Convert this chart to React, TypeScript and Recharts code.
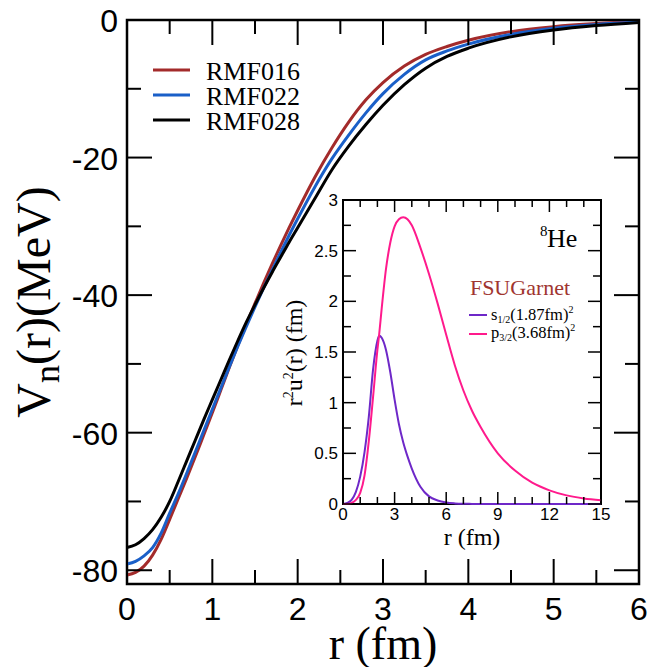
import { LineChart, Line, XAxis, YAxis, Legend, ReferenceArea } from 'recharts';

// Main panel: neutron potential V_n(r) for three RMF sets
const rGrid = [0, 0.1, 0.2, 0.3, 0.4, 0.5, 0.6, 0.7, 0.8, 0.9, 1.0, 1.1, 1.2, 1.3, 1.4, 1.5, 1.6, 1.7, 1.8, 1.9, 2.0, 2.2, 2.4, 2.6, 2.8, 3.0, 3.25, 3.5, 3.75, 4.0, 4.5, 5.0, 5.5, 6.0];
const rmf016 = [-80.7, -80.3, -79.4, -77.8, -75.5, -72.6, -69.6, -66.6, -63.5, -60.3, -57.1, -53.8, -50.5, -47.3, -44.2, -41.2, -38.3, -35.5, -32.8, -30.2, -27.7, -22.9, -18.6, -14.8, -11.6, -9.1, -6.7, -5.0, -3.85, -2.95, -1.7, -0.97, -0.52, -0.22];
const rmf022 = [-79.1, -78.7, -77.9, -76.7, -74.6, -71.7, -68.9, -65.9, -62.8, -59.7, -56.6, -53.5, -50.4, -47.4, -44.5, -41.7, -39.0, -36.4, -33.8, -31.3, -28.9, -24.3, -20.2, -16.7, -13.5, -10.7, -7.9, -5.8, -4.5, -3.5, -2.1, -1.2, -0.65, -0.3];
const rmf028 = [-76.7, -76.3, -75.4, -74.1, -72.3, -70.0, -67.1, -64.1, -61.1, -58.1, -55.2, -52.3, -49.4, -46.6, -43.9, -41.4, -39.0, -36.7, -34.5, -32.3, -30.2, -26.0, -21.8, -18.3, -15.2, -12.4, -9.4, -7.0, -5.3, -4.1, -2.45, -1.45, -0.8, -0.35];
const mainXTicks = [0, 0.5, 1, 1.5, 2, 2.5, 3, 3.5, 4, 4.5, 5, 5.5, 6];
const mainYTicks = [-80, -70, -60, -50, -40, -30, -20, -10, 0];

// Inset: r^2 u^2(r) densities for 8He (FSUGarnet)
const rInset = [0, 0.25, 0.5, 0.75, 1, 1.25, 1.5, 1.75, 2, 2.1, 2.25, 2.5, 2.75, 3, 3.25, 3.5, 3.75, 4, 4.5, 5, 5.5, 6, 6.5, 7, 7.5, 8, 9, 10, 11, 12, 13, 14, 15];
const s12 = [0, 0.01, 0.04, 0.12, 0.27, 0.51, 0.86, 1.33, 1.61, 1.66, 1.64, 1.52, 1.30, 1.03, 0.79, 0.61, 0.47, 0.35, 0.17, 0.075, 0.035, 0.015, 0.006, 0.002, 0.001, 0, 0, 0, 0, 0, 0, 0, 0];
const p32 = [0, 0, 0.01, 0.04, 0.11, 0.28, 0.62, 1.06, 1.52, 1.67, 1.93, 2.32, 2.58, 2.74, 2.81, 2.83, 2.81, 2.75, 2.53, 2.27, 1.98, 1.67, 1.37, 1.12, 0.92, 0.76, 0.50, 0.33, 0.21, 0.135, 0.085, 0.055, 0.038];
const insetXTicks = [0, 1, 2, 3, 4, 5, 6, 7, 8, 9, 10, 11, 12, 13, 14, 15];
const insetYTicks = [0, 0.25, 0.5, 0.75, 1, 1.25, 1.5, 1.75, 2, 2.25, 2.5, 2.75, 3];

const mainSeries = [
  { key: 'rmf016', name: 'RMF016', color: '#a32b2b' },
  { key: 'rmf022', name: 'RMF022', color: '#1a5fc8' },
  { key: 'rmf028', name: 'RMF028', color: '#000000' },
];
const insetSeries = [
  { key: 's12', base: 's', sub: '1/2', rest: '(1.87fm)', color: '#6e28c8' },
  { key: 'p32', base: 'p', sub: '3/2', rest: '(3.68fm)', color: '#ff1a8c' },
];

const mainData = rGrid.map((r, i) => ({ r, rmf016: rmf016[i], rmf022: rmf022[i], rmf028: rmf028[i] }));
const insetData = rInset.map((r, i) => ({ r, s12: s12[i], p32: p32[i] }));

const SANS = '"Liberation Sans", Arial, Helvetica, sans-serif';
const SERIF = '"Liberation Serif", "Times New Roman", serif';

// layout of the main plot
const W = 651, H = 667;
const M_LEFT = 127, M_TOP = 20, M_RIGHT = 12, M_BOTTOM = 83;
const PW = W - M_LEFT - M_RIGHT;
const PH = H - M_TOP - M_BOTTOM;

// layout of the inset
const IN_X = 263, IN_Y = 190, IN_W = 350, IN_H = 370;
const IN_LEFT = 80, IN_TOP = 10, IN_RIGHT = 12, IN_BOTTOM = 56;
const IPW = IN_W - IN_LEFT - IN_RIGHT;
const IPH = IN_H - IN_TOP - IN_BOTTOM;

function MainXTick(props: any) {
  const { x, y, payload } = props;
  const v = payload.value;
  const major = Number.isInteger(v);
  const len = major ? 25 : 14;
  return (
    <g>
      <line x1={x} x2={x} y1={y} y2={y - len} stroke="#000" strokeWidth={2} />
      <line x1={x} x2={x} y1={y - PH} y2={y - PH + len} stroke="#000" strokeWidth={2} />
      {major && (
        <text x={x} y={y + 36} textAnchor="middle" fontSize={32} fontFamily={SANS} fill="#000">{v}</text>
      )}
    </g>
  );
}

function MainYTick(props: any) {
  const { x, y, payload } = props;
  const v = payload.value;
  const major = v % 20 === 0;
  const len = major ? 25 : 14;
  return (
    <g>
      <line x1={x} x2={x + len} y1={y} y2={y} stroke="#000" strokeWidth={2} />
      <line x1={x + PW} x2={x + PW - len} y1={y} y2={y} stroke="#000" strokeWidth={2} />
      {major && (
        <text x={x - 9} y={y + 12} textAnchor="end" fontSize={32} fontFamily={SANS} fill="#000">{v}</text>
      )}
    </g>
  );
}

function InsetXTick(props: any) {
  const { x, y, payload } = props;
  const v = payload.value;
  const major = v % 3 === 0;
  const len = major ? 12 : 7;
  return (
    <g>
      <line x1={x} x2={x} y1={y} y2={y - len} stroke="#000" strokeWidth={1.5} />
      <line x1={x} x2={x} y1={y - IPH} y2={y - IPH + len} stroke="#000" strokeWidth={1.5} />
      {major && (
        <text x={x} y={y + 16} textAnchor="middle" fontSize={17} fontFamily={SANS} fill="#000">{v}</text>
      )}
    </g>
  );
}

function InsetYTick(props: any) {
  const { x, y, payload } = props;
  const v = payload.value;
  const major = Number.isInteger(v * 2);
  const len = major ? 13 : 8;
  return (
    <g>
      <line x1={x} x2={x + len} y1={y} y2={y} stroke="#000" strokeWidth={1.5} />
      <line x1={x + IPW} x2={x + IPW - len} y1={y} y2={y} stroke="#000" strokeWidth={1.5} />
      {major && (
        <text x={x - 5} y={y + 6} textAnchor="end" fontSize={17} fontFamily={SANS} fill="#000">{v}</text>
      )}
    </g>
  );
}

function MainLegend() {
  return (
    <svg width={220} height={90}>
      {mainSeries.map((s, i) => (
        <g key={s.key}>
          <line x1={3} x2={40} y1={20 + i * 25} y2={20 + i * 25} stroke={s.color} strokeWidth={3} />
          <text x={56} y={30 + i * 25} fontSize={26} fontFamily={SERIF} fill="#000">{s.name}</text>
        </g>
      ))}
    </svg>
  );
}

function InsetLegend() {
  return (
    <svg width={125} height={50}>
      {insetSeries.map((s, i) => (
        <g key={s.key}>
          <line x1={3} x2={21} y1={15 + i * 19} y2={15 + i * 19} stroke={s.color} strokeWidth={2} />
          <text x={25} y={20 + i * 18} fontSize={16.5} fontFamily={SERIF} fill="#000">
            <tspan>{s.base}</tspan>
            <tspan fontSize={10} dy={3}>{s.sub}</tspan>
            <tspan dy={-3}>{s.rest}</tspan>
            <tspan fontSize={10} dy={-7}>2</tspan>
          </text>
        </g>
      ))}
    </svg>
  );
}

export default function App() {
  return (
    <div style={{ position: 'absolute', left: 0, top: 0, width: W, height: H, background: '#fff' }}>
      <LineChart width={W} height={H} data={mainData} margin={{ top: M_TOP, right: M_RIGHT, left: 0, bottom: 0 }}>
        <XAxis dataKey="r" type="number" domain={[0, 6]} ticks={mainXTicks} interval={0} height={M_BOTTOM}
          tickSize={0} tickMargin={0} axisLine={false} tickLine={false} tick={MainXTick} />
        <YAxis type="number" domain={[-82, 0]} ticks={mainYTicks} interval={0} width={M_LEFT}
          tickSize={0} tickMargin={0} axisLine={false} tickLine={false} tick={MainYTick} />
        <ReferenceArea x1={0} x2={6} y1={-82} y2={0} fill="none" stroke="#000" strokeWidth={2.5} />
        {mainSeries.map((s) => (
          <Line key={s.key} type="monotone" dataKey={s.key} name={s.name} stroke={s.color} strokeWidth={3}
            dot={false} isAnimationActive={false} />
        ))}
        <Legend layout="vertical" align="center" verticalAlign="middle" content={MainLegend}
          wrapperStyle={{ left: 150, top: 50, width: 220, height: 90 }} />
        <text x={383} y={659} textAnchor="middle" fontSize={46} fontFamily={SERIF} fill="#000">r (fm)</text>
        <text x={50} y={302} textAnchor="middle" fontSize={48} fontFamily={SERIF} fill="#000"
          transform="rotate(-90, 50, 302)">
          <tspan>V</tspan>
          <tspan fontSize={36} dy={9}>n</tspan>
          <tspan dy={-9}>(r)(MeV)</tspan>
        </text>
      </LineChart>

      <div style={{ position: 'absolute', left: IN_X, top: IN_Y }}>
        <LineChart width={IN_W} height={IN_H} data={insetData} margin={{ top: IN_TOP, right: IN_RIGHT, left: 0, bottom: 0 }}>
          <XAxis dataKey="r" type="number" domain={[0, 15]} ticks={insetXTicks} interval={0} height={IN_BOTTOM}
            tickSize={0} tickMargin={0} axisLine={false} tickLine={false} tick={InsetXTick} />
          <YAxis type="number" domain={[0, 3]} ticks={insetYTicks} interval={0} width={IN_LEFT}
            tickSize={0} tickMargin={0} axisLine={false} tickLine={false} tick={InsetYTick} />
          <ReferenceArea x1={0} x2={15} y1={0} y2={3} fill="none" stroke="#000" strokeWidth={2} />
          {insetSeries.map((s) => (
            <Line key={s.key} type="monotone" dataKey={s.key} stroke={s.color} strokeWidth={2}
              dot={false} isAnimationActive={false} />
          ))}
          <Legend layout="vertical" align="center" verticalAlign="middle" content={InsetLegend}
            wrapperStyle={{ left: 203, top: 110, width: 125, height: 50 }} />
          <text x={277} y={46} fontSize={15} fontFamily={SERIF} fill="#000">8</text>
          <text x={284} y={57} fontSize={26} fontFamily={SERIF} fill="#000">He</text>
          <text x={257} y={105} textAnchor="middle" fontSize={22} fontFamily={SERIF} fill="#a03530">FSUGarnet</text>
          <text x={209} y={355} textAnchor="middle" fontSize={24} fontFamily={SERIF} fill="#000">r (fm)</text>
          <text x={39} y={163} textAnchor="middle" fontSize={24} fontFamily={SERIF} fill="#000"
            transform="rotate(-90, 39, 163)">
            <tspan>r</tspan>
            <tspan fontSize={14} dy={-9}>2</tspan>
            <tspan dy={9}>u</tspan>
            <tspan fontSize={14} dy={-9}>2</tspan>
            <tspan dy={9}>(r) (fm)</tspan>
          </text>
        </LineChart>
      </div>
    </div>
  );
}
